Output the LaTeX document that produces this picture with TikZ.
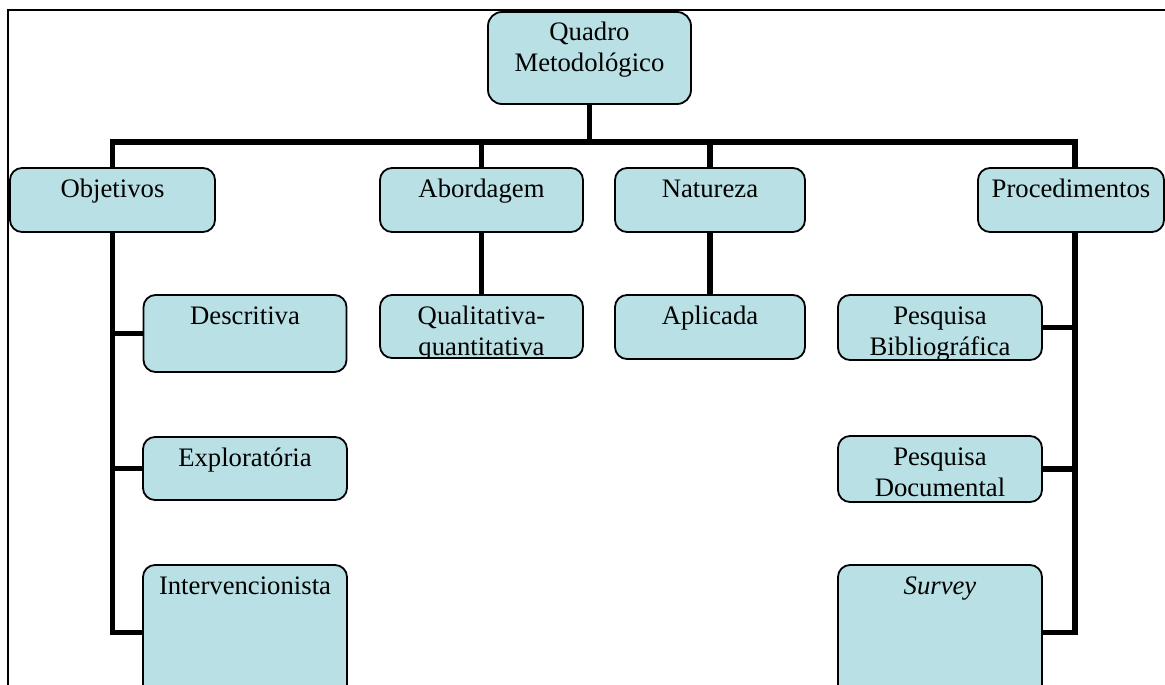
\documentclass[tikz,border=0pt]{standalone}
\usepackage{fontspec}
\setmainfont{Liberation Serif}
\definecolor{boxfill}{RGB}{185,224,228}
\newcommand{\boxfont}{\fontsize{26.7}{31}\selectfont}
\tikzset{
  box/.style={draw=black, line width=1.8pt, fill=boxfill, rounded corners=12pt,
    inner sep=0pt, rectangle},
  boxtext/.style={path picture={\node[anchor=base,inner sep=0pt,font=\boxfont]
      at ([yshift=-29pt]path picture bounding box.north)
      {\begin{tabular}[t]{@{}c@{}}#1\end{tabular}};}},
  conn/.style={draw=black, line width=5.8pt},
  frame/.style={draw=black, line width=1.2pt}
}
\begin{document}
\begin{tikzpicture}[x=1pt,y=-1pt]
\useasboundingbox (0,0) rectangle (1165,685);
\clip (0,0) rectangle (1165,685);
\draw[frame] (8,690) -- (8,10) -- (1170,10);
\coordinate (bar) at (589.5,142);
\node[box, minimum width=203pt, minimum height=92pt, rounded corners=14pt, boxtext={Quadro\\Metodológico}] (quadro) at (589.5,58) {};
\node[box, minimum width=205pt, minimum height=64pt, boxtext={Objetivos}] (obj) at (112.5,200) {};
\node[box, minimum width=203pt, minimum height=64pt, boxtext={Abordagem}] (abo) at (481.5,200) {};
\node[box, minimum width=190pt, minimum height=64pt, boxtext={Natureza}] (nat) at (710,200) {};
\node[box, minimum width=186pt, minimum height=64pt, boxtext={Procedimentos}] (proc) at (1071,200) {};
\node[box, minimum width=203pt, minimum height=77pt, boxtext={Descritiva}] (desc) at (245,333.5) {};
\node[box, minimum width=204pt, minimum height=63pt, boxtext={Exploratória}] (expl) at (245,468.5) {};
\node[box, minimum width=204pt, minimum height=135pt, boxtext={Intervencionista}] (interv) at (245,632.5) {};
\node[box, minimum width=203pt, minimum height=63pt, boxtext={Qualitativa-\\quantitativa}] (qual) at (481.5,326.5) {};
\node[box, minimum width=190pt, minimum height=64pt, boxtext={Aplicada}] (apl) at (710,327) {};
\node[box, minimum width=204pt, minimum height=65pt, boxtext={Pesquisa\\Bibliográfica}] (bib) at (940,327.5) {};
\node[box, minimum width=204pt, minimum height=66pt, boxtext={Pesquisa\\Documental}] (doc) at (940,469) {};
\node[box, minimum width=204pt, minimum height=135pt, boxtext={\itshape Survey}] (surv) at (940,632.5) {};
\coordinate (pspine) at ([xshift=4pt]proc.south);
\coordinate (ptop) at ([xshift=4pt]proc.north);
\draw[conn] (quadro.south) -- (bar);
\draw[conn] (obj.north) |- (bar) -| (ptop);
\draw[conn] (abo.north) -- (abo.north |- bar);
\draw[conn] (nat.north) -- (nat.north |- bar);
\draw[conn] (abo.south) -- (qual.north);
\draw[conn] (nat.south) -- (apl.north);
\draw[conn] (obj.south) |- (interv.west);
\draw[conn] (desc.west) -- (desc.west -| obj.south);
\draw[conn] (expl.west) -- (expl.west -| obj.south);
\draw[conn] (pspine) |- (surv.east);
\draw[conn] (bib.east) -- (bib.east -| pspine);
\draw[conn] (doc.east) -- (doc.east -| pspine);
\end{tikzpicture}
\end{document}
